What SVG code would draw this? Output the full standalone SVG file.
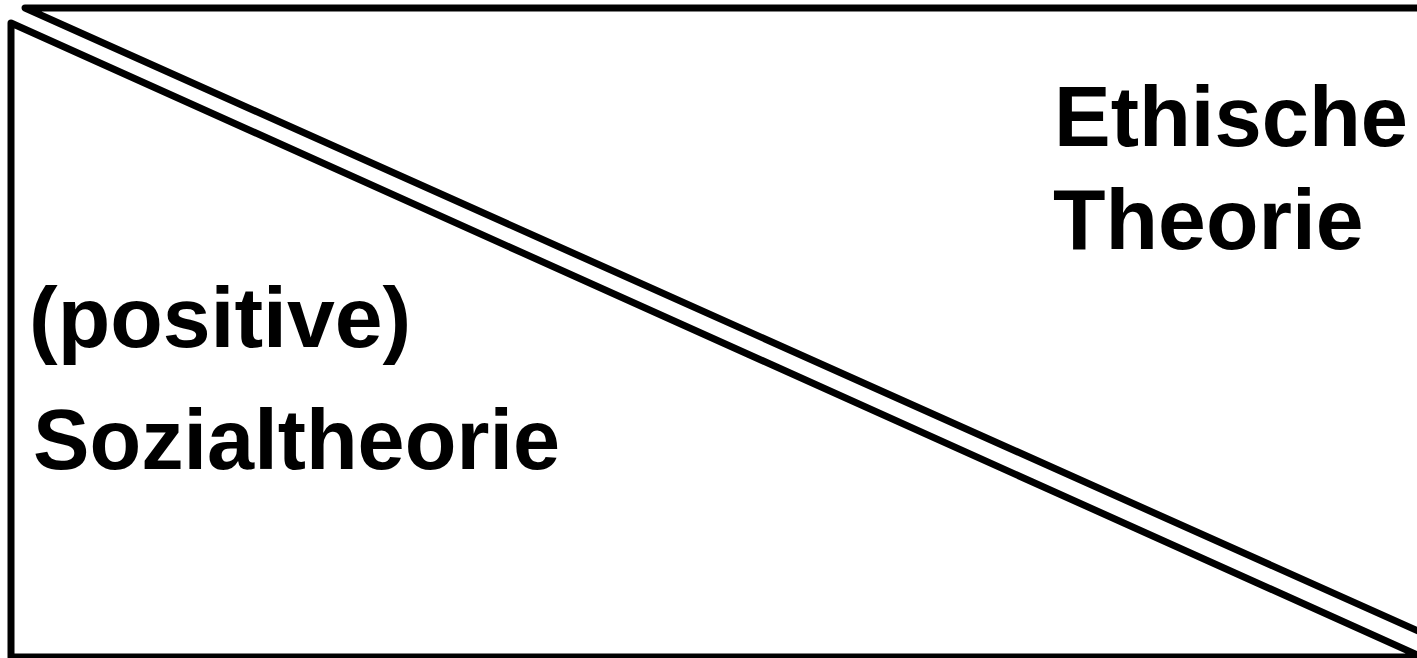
<svg xmlns="http://www.w3.org/2000/svg" width="1417" height="658" viewBox="0 0 1417 658">
  <style>
    .shape { fill: none; stroke: #000; stroke-width: 7; stroke-linejoin: round; }
    .lbl { font-family: "Liberation Sans", Arial, sans-serif; font-weight: bold; font-size: 86px; fill: #000; }
  </style>
  <rect width="1417" height="658" fill="#fff"/>
  <g id="connectors"></g>
  <g id="ethische-theorie">
    <polyline class="shape" points="1430,8 25,8 1430,636.3"/>
    <text class="lbl" x="1054" y="146" textLength="354" lengthAdjust="spacingAndGlyphs">Ethische</text>
    <text class="lbl" x="1053" y="249">Theorie</text>
  </g>
  <g id="sozialtheorie">
    <polygon class="shape" points="11,23 1422,657 11,657"/>
    <text class="lbl" x="29" y="347">(positive)</text>
    <text class="lbl" x="33" y="469" textLength="527" lengthAdjust="spacingAndGlyphs">Sozialtheorie</text>
  </g>
</svg>
